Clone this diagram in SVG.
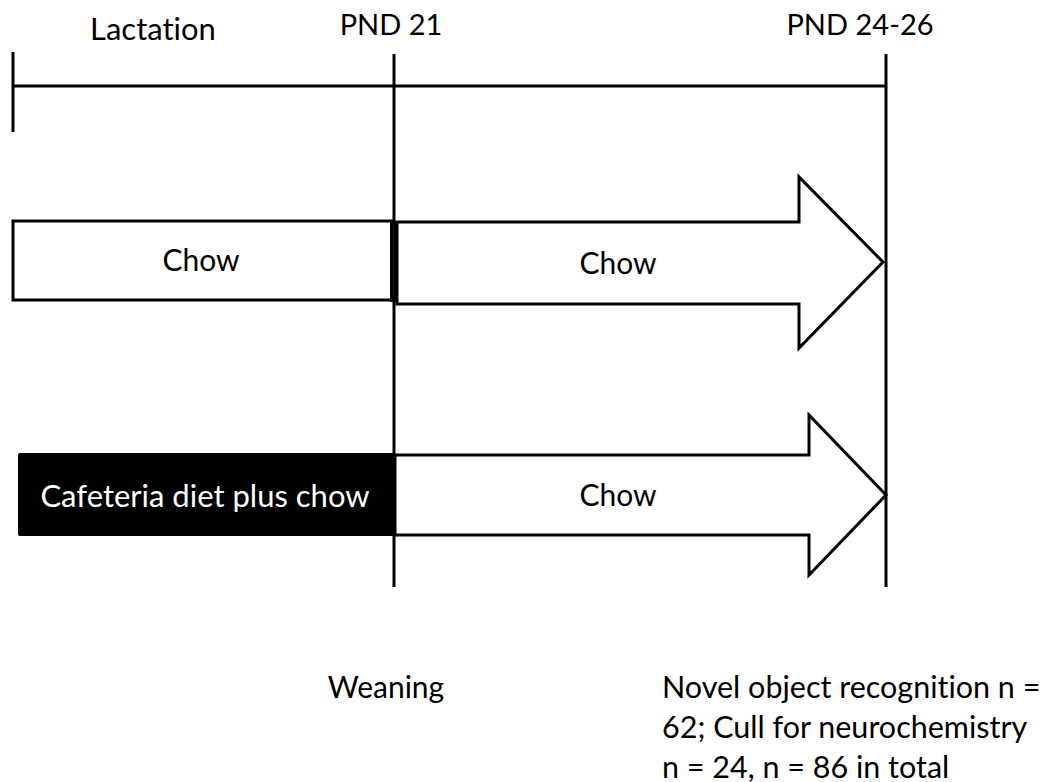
<svg xmlns="http://www.w3.org/2000/svg" width="1048" height="782" viewBox="0 0 1048 782">
<style>
.t{font-family:Lato,"Open Sans","Liberation Sans",sans-serif;font-size:29px;fill:#000;font-variant-ligatures:none}
.c{text-anchor:middle}
.ln{stroke:#000;stroke-width:3;fill:none}
.shape{fill:#fff;stroke:#000;stroke-width:3;stroke-linejoin:miter}
</style>
<rect width="1048" height="782" fill="#fff"/>
<g id="connectors">
<line class="ln" x1="13" y1="86" x2="886" y2="86"/>
<line class="ln" x1="13" y1="52" x2="13" y2="132"/>
<line class="ln" x1="394" y1="54" x2="394" y2="587"/>
<line class="ln" x1="886" y1="54" x2="886" y2="587"/>
</g>
<g id="labels">
<text class="t c" x="153" y="40" style="font-size:31px">Lactation</text>
<text class="t c" x="391" y="35">PND 21</text>
<text class="t c" x="860" y="35">PND 24-26</text>
<text class="t c" x="386" y="698" style="font-size:30px">Weaning</text>
<text class="t" x="662" y="698" style="font-size:30.5px">Novel object recognition n =</text>
<text class="t" x="662" y="738" style="font-size:30.5px">62; Cull for neurochemistry</text>
<text class="t" x="662" y="778" style="font-size:30.5px">n = 24, n = 86 in total</text>
</g>
<g id="chow-lactation">
<rect class="shape" x="13" y="221" width="379" height="79"/>
<rect x="390" y="221" width="7" height="81" fill="#000"/>
<text class="t c" x="201" y="271" style="font-size:30px">Chow</text>
</g>
<g id="chow-arrow-1">
<polygon class="shape" points="397,222 799,222 799,177 883,262 799,348 799,304 397,304"/>
<text class="t c" x="618" y="274" style="font-size:30px">Chow</text>
</g>
<g id="cafeteria">
<rect x="18" y="453" width="376" height="83" rx="2" fill="#000"/>
<text class="t c" x="205" y="507" style="fill:#fff;font-size:31px">Cafeteria diet plus chow</text>
</g>
<g id="chow-arrow-2">
<polygon class="shape" points="395,455 809,455 809,415 886,495 809,575 809,535 395,535"/>
<text class="t c" x="618" y="506" style="font-size:30px">Chow</text>
</g>
</svg>
